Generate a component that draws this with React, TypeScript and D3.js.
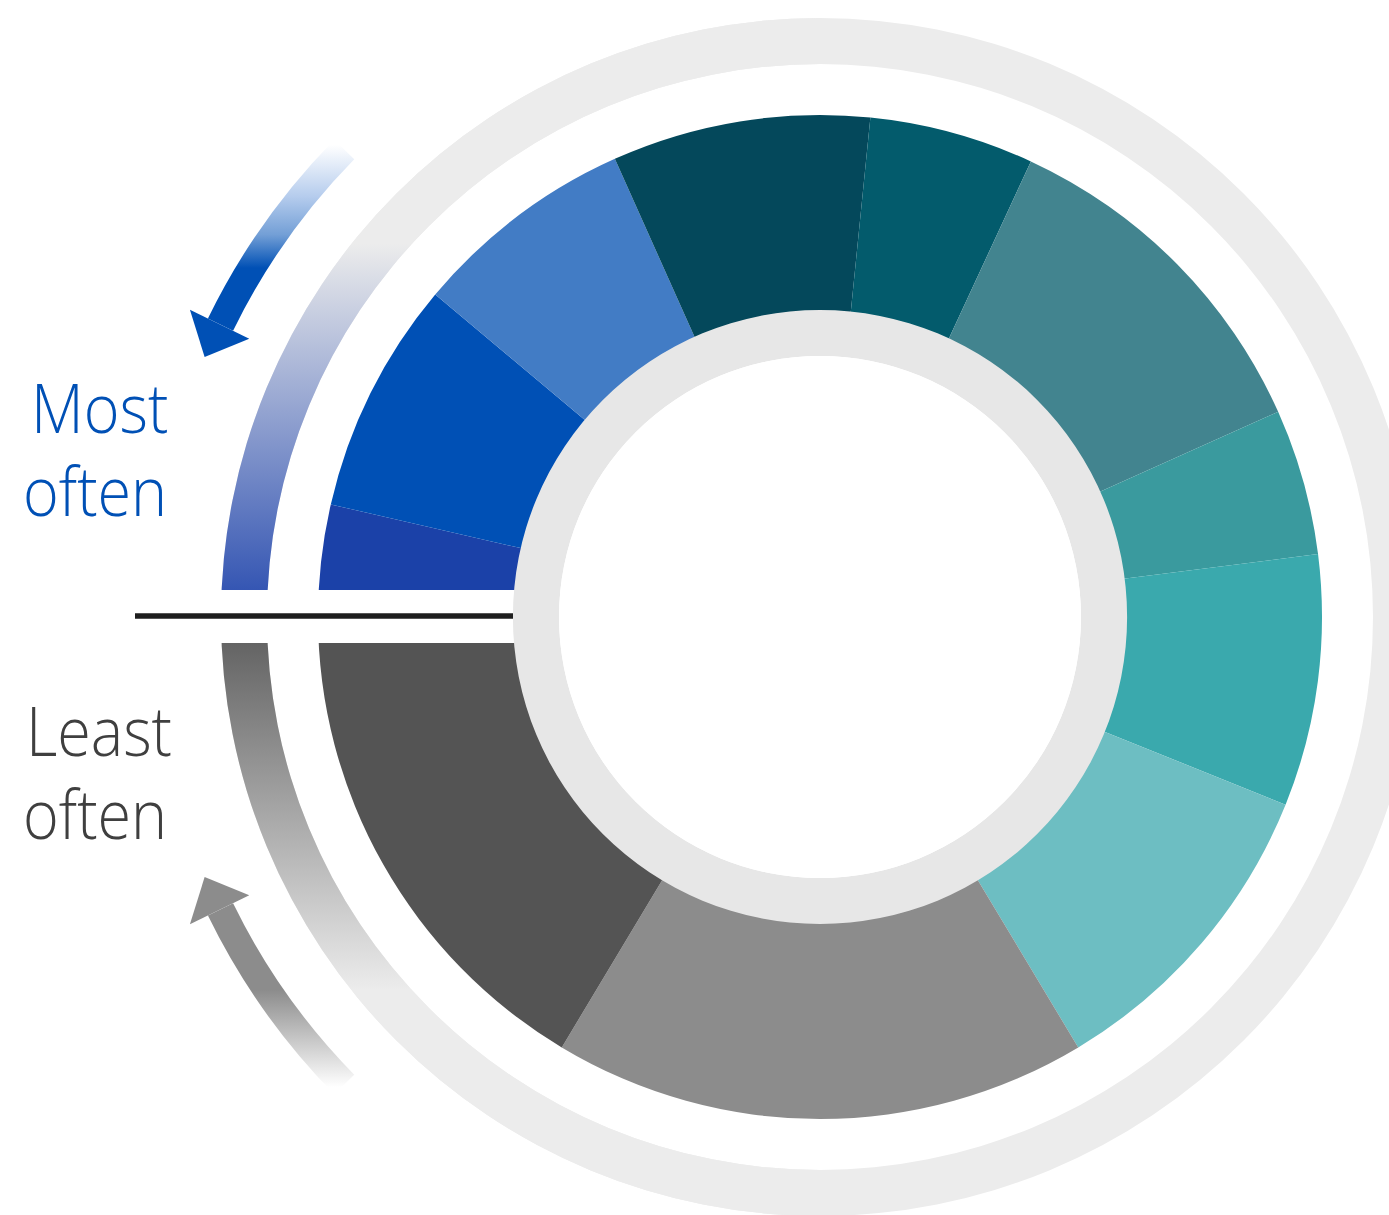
import React from "react";
import * as d3 from "d3";

// ---- data ----
const segmentNames = ["S1", "S2", "S3", "S4", "S5", "S6", "S7", "S8", "S9", "S10", "S11"];
const segmentValues = [3.6, 7.5, 7.2, 8.3, 5.3, 11.4, 4.7, 8.1, 10.3, 17.2, 16.4];
const segmentColors = [
  "#1b41a8", "#0050b5", "#427cc5", "#04485b", "#035b6c", "#42848f",
  "#3a9a9e", "#3aa9ad", "#6dbec2", "#8c8c8c", "#545454",
];
const topLabel = ["Most", "often"];
const bottomLabel = ["Least", "often"];

const W = 1389;
const H = 1215;
const cx = 820;
const cy = 617;
const rCenter = 261;
const rGrayOuter = 307;
const rSegOuter = 502;
const rRingIn = 553;
const rRingOut = 599;
const gapTop = 590;
const gapBottom = 643;

const deg = (d: number) => (d * Math.PI) / 180;
const polar = (r: number, a: number): [number, number] => [
  r * Math.sin(deg(a)),
  -r * Math.cos(deg(a)),
];

function arrowPath(aBase: number, aEnd: number, aTip: number) {
  const rMid = 667;
  const body = d3.arc()({
    innerRadius: rMid - 14,
    outerRadius: rMid + 14,
    startAngle: deg(Math.min(aBase, aEnd)),
    endAngle: deg(Math.max(aBase, aEnd)),
  } as any) as string;
  const b1 = polar(rMid - 32, aBase);
  const b2 = polar(rMid + 34, aBase);
  const t = polar(rMid + 1, aTip);
  const head = `M${b1[0]},${b1[1]}L${b2[0]},${b2[1]}L${t[0]},${t[1]}Z`;
  return { body, head };
}

export default function App() {
  const pie = d3
    .pie<number>()
    .sort(null)
    .value((d) => d)
    .startAngle(-Math.PI / 2)
    .endAngle((3 * Math.PI) / 2);
  const arcs = pie(segmentValues);
  const segArc = d3.arc<d3.PieArcDatum<number>>().innerRadius(rGrayOuter - 1).outerRadius(rSegOuter);

  const ringArc = d3.arc();
  const ringFull = ringArc({ innerRadius: rRingIn, outerRadius: rRingOut, startAngle: 0, endAngle: 2 * Math.PI } as any) as string;
  const ringUL = ringArc({ innerRadius: rRingIn, outerRadius: rRingOut, startAngle: -Math.PI / 2, endAngle: 0 } as any) as string;
  const ringLL = ringArc({ innerRadius: rRingIn, outerRadius: rRingOut, startAngle: Math.PI, endAngle: (3 * Math.PI) / 2 } as any) as string;
  const grayRing = ringArc({ innerRadius: rCenter, outerRadius: rGrayOuter, startAngle: 0, endAngle: 2 * Math.PI } as any) as string;

  const blue = arrowPath(296, 314.5, 292.9);
  const gray = arrowPath(244, 225.5, 247.1);

  const font = "'Open Sans', 'Noto Sans', sans-serif";
  const sx = 0.885;

  const label = (txt: string, x: number, y: number, color: string) => (
    <text transform={`translate(${x},${y}) scale(${sx},1)`} fill={color}>
      {txt}
    </text>
  );

  return (
    <svg
      width={W}
      height={H}
      viewBox={`0 0 ${W} ${H}`}
      style={{ position: "absolute", left: 0, top: 0, display: "block", background: "#fff" }}
    >
      <g transform={`translate(${cx},${cy})`}>
        <defs>
          <linearGradient id="ringBlueT" gradientUnits="userSpaceOnUse" x1={0} y1={gapTop - cy} x2={0} y2={244 - cy}>
            <stop offset="0" stopColor="#3556b3" />
            <stop offset="1" stopColor="#ececec" />
          </linearGradient>
          <linearGradient id="ringGrayT" gradientUnits="userSpaceOnUse" x1={0} y1={gapBottom - cy} x2={0} y2={990 - cy}>
            <stop offset="0" stopColor="#646464" />
            <stop offset="1" stopColor="#ececec" />
          </linearGradient>
          <linearGradient id="arrowBlueT" gradientUnits="userSpaceOnUse" x1={0} y1={268 - cy} x2={0} y2={145 - cy}>
            <stop offset="0" stopColor="#0050b5" />
            <stop offset="0.27" stopColor="#739fd6" />
            <stop offset="0.58" stopColor="#b5cced" />
            <stop offset="1" stopColor="#ffffff" />
          </linearGradient>
          <linearGradient id="arrowGrayT" gradientUnits="userSpaceOnUse" x1={0} y1={990 - cy} x2={0} y2={1087 - cy}>
            <stop offset="0" stopColor="#8c8c8c" />
            <stop offset="1" stopColor="#ffffff" />
          </linearGradient>
        </defs>
        <path d={ringFull} fill="#ececec" />
        <path d={ringUL} fill="url(#ringBlueT)" />
        <path d={ringLL} fill="url(#ringGrayT)" />
        {arcs.map((a, i) => (
          <path key={segmentNames[i]} d={segArc(a) as string} fill={segmentColors[i]} />
        ))}
      </g>

      {/* horizontal gap */}
      <rect x={0} y={gapTop} width={cx} height={gapBottom - gapTop} fill="#ffffff" />

      <g transform={`translate(${cx},${cy})`}>
        <path d={grayRing} fill="#e7e7e7" />
        <circle r={rCenter} fill="#ffffff" />
        <path d={blue.body} fill="url(#arrowBlueT)" />
        <path d={gray.body} fill="url(#arrowGrayT)" />
        <path d={blue.head} fill="#0050b5" />
        <path d={gray.head} fill="#8c8c8c" />
      </g>

      <line x1={135} x2={cx - rGrayOuter} y1={616} y2={616} stroke="#1e1e1e" strokeWidth={5.5} />

      <g fontFamily={font} fontWeight={300} fontSize={69}>
        {label(topLabel[0], 31, 433, "#0050b5")}
        {label(topLabel[1], 23, 516, "#0050b5")}
        {label(bottomLabel[0], 26, 756, "#3f3f3f")}
        {label(bottomLabel[1], 23, 839, "#3f3f3f")}
      </g>
    </svg>
  );
}
